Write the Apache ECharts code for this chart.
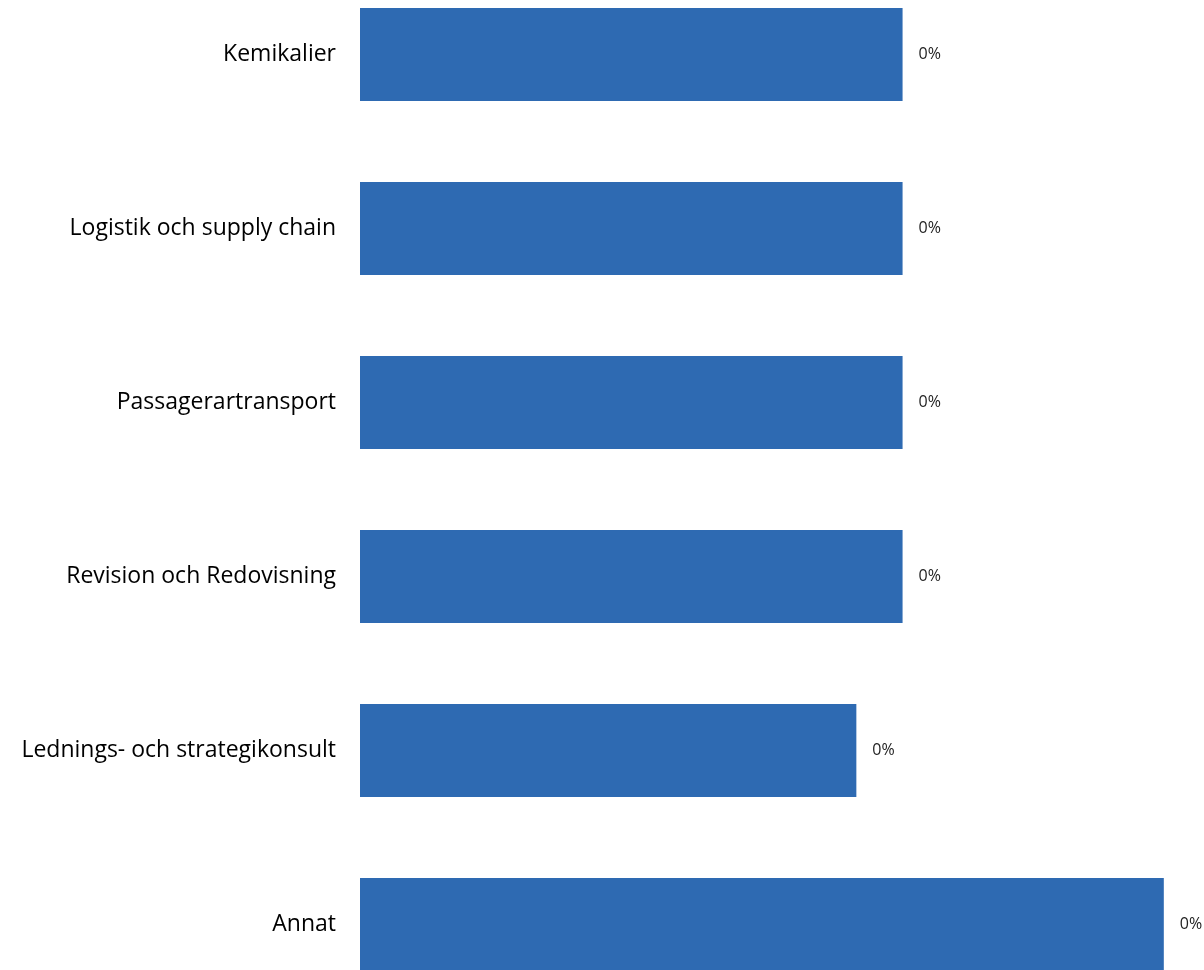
<!DOCTYPE html>
<html>
<head>
<meta charset="utf-8">
<script src="https://cdn.jsdelivr.net/npm/echarts@6/dist/echarts.min.js"></script>
<style>html,body{margin:0;padding:0;background:#fff}#c{width:1204px;height:970px}</style>
</head>
<body>
<div id="c"></div>
<script>
const categories = ['Kemikalier','Logistik och supply chain','Passagerartransport','Revision och Redovisning','Lednings- och strategikonsult','Annat'];
const values = [0.0027, 0.0027, 0.0027, 0.0027, 0.00247, 0.0040];
const chart = echarts.init(document.getElementById('c'));
chart.setOption({
  animation: false,
  grid: { left: 360, right: 0, top: -32.5, height: 1044, outerBoundsMode: 'none', containLabel: false },
  xAxis: { type: 'value', min: 0, max: 0.0042, show: false },
  yAxis: {
    type: 'category', data: categories, inverse: true,
    axisLine: { show: false }, axisTick: { show: false },
    axisLabel: { color: '#000', fontSize: 23, fontFamily: 'Open Sans', margin: 24 }
  },
  series: [{
    type: 'bar', data: values, barWidth: 93,
    itemStyle: { color: '#2e6ab2' },
    label: { show: true, position: 'right', distance: 16, color: '#222', fontSize: 16, fontFamily: 'Open Sans',
      formatter: p => Math.round(p.value * 100) + '%' }
  }]
});
</script>
</body>
</html>
